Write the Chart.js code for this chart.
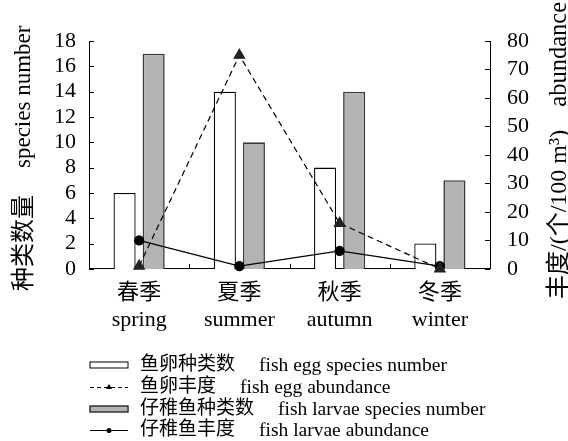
<!DOCTYPE html>
<html>
<head>
<meta charset="utf-8">
<title>Fish eggs and larvae by season</title>
<script src="https://cdn.jsdelivr.net/npm/chart.js"></script>
<style>
    body { margin: 0; background: #fff; }
</style>
</head>
<body>
<canvas id="fishChart" width="568" height="441"></canvas>

<script>
    // seasons (two-line labels)
    const seasonsZh = ['春季', '夏季', '秋季', '冬季'];
    const seasonsEn = ['spring', 'summer', 'autumn', 'winter'];

    // left axis: species number
    const eggSpecies = [6, 14, 8, 2];
    const larvaeSpecies = [17, 10, 14, 7];

    // right axis: abundance (ind./100 m3)
    const eggAbundance = [1, 75, 16, 0];
    const larvaeAbundance = [10, 1, 6.3, 1];

    const speciesTicks = [0, 2, 4, 6, 8, 10, 12, 14, 16, 18];
    const abundanceTicks = [0, 10, 20, 30, 40, 50, 60, 70, 80];

    const legendZh = ['鱼卵种类数', '鱼卵丰度', '仔稚鱼种类数', '仔稚鱼丰度'];
    const legendEn = ['fish egg species number', 'fish egg abundance', 'fish larvae species number', 'fish larvae abundance'];

    const serif = "'Liberation Serif', 'Times New Roman', 'Noto Sans CJK SC', serif";

    // inward ticks, rotated axis titles and the legend list under the chart
    const decor = {
        id: 'decor',
        afterDraw(chart) {
            const ctx = chart.ctx;
            const area = chart.chartArea;
            const xs = chart.scales.x, ys = chart.scales.y, ys1 = chart.scales.y1;
            ctx.save();
            ctx.strokeStyle = '#000';
            ctx.lineWidth = 1;
            ctx.beginPath();
            speciesTicks.forEach(v => {
                const py = Math.round(ys.getPixelForValue(v)) + 0.5;
                ctx.moveTo(area.left, py); ctx.lineTo(area.left + 5, py);
            });
            abundanceTicks.forEach(v => {
                const py = Math.round(ys1.getPixelForValue(v)) + 0.5;
                ctx.moveTo(area.right, py); ctx.lineTo(area.right - 5, py);
            });
            for (let i = 0; i < seasonsZh.length - 1; i++) {
                const px = Math.round((xs.getPixelForValue(i) + xs.getPixelForValue(i + 1)) / 2) + 0.5;
                ctx.moveTo(px, area.bottom); ctx.lineTo(px, area.bottom - 5);
            }
            ctx.stroke();

            // axis titles, both read bottom-to-top
            ctx.fillStyle = '#000';
            ctx.textBaseline = 'alphabetic';
            ctx.textAlign = 'left';
            function upText(txt, x, yStart, size) {
                ctx.save();
                ctx.translate(x, yStart);
                ctx.rotate(-Math.PI / 2);
                ctx.font = size + 'px ' + serif;
                ctx.fillText(txt, 0, 0);
                ctx.restore();
            }
            upText('种类数量', 31, 291, 24);
            upText('species number', 30, 168, 23);
            upText('丰度/(个/100 m³)', 566, 299, 24);
            ctx.font = '24.5px ' + serif;
            const wa = ctx.measureText('abundance').width;
            upText('abundance', 566, 2 + wa, 24.5);

            // legend
            const rowY = [365, 387, 409, 430];
            const sx = 90, ex = 128;
            rowY.forEach((y, i) => {
                ctx.lineWidth = 1;
                if (i === 0 || i === 2) {
                    ctx.fillStyle = i === 0 ? '#fff' : '#b3b3b3';
                    ctx.strokeStyle = i === 0 ? '#000' : '#333';
                    ctx.lineWidth = i === 0 ? 1 : 1.5;
                    ctx.fillRect(sx, y - 3, ex - sx, 6);
                    ctx.strokeRect(sx, y - 3, ex - sx, 6);
                } else {
                    ctx.strokeStyle = '#000';
                    ctx.setLineDash(i === 1 ? [4, 3] : []);
                    ctx.beginPath();
                    ctx.moveTo(sx, y + 0.5); ctx.lineTo(ex, y + 0.5);
                    ctx.stroke();
                    ctx.setLineDash([]);
                    ctx.fillStyle = '#000';
                    ctx.beginPath();
                    if (i === 1) {
                        ctx.moveTo(109, y - 3); ctx.lineTo(112, y + 2); ctx.lineTo(106, y + 2); ctx.closePath();
                    } else {
                        ctx.arc(109, y + 0.5, 2.5, 0, Math.PI * 2);
                    }
                    ctx.fill();
                }
                ctx.fillStyle = '#000';
                ctx.textBaseline = 'middle';
                ctx.font = '19px ' + serif;
                ctx.fillText(legendZh[i], 140, y);
                const w = ctx.measureText(legendZh[i]).width;
                ctx.font = '19.5px ' + serif;
                ctx.fillText(legendEn[i], 140 + w + 24, y + 1);
            });
            ctx.restore();
        }
    };

    const ctx = document.getElementById('fishChart').getContext('2d');
    const chart = new Chart(ctx, {
        type: 'bar',
        data: {
            labels: seasonsZh.map((s, i) => [s, seasonsEn[i]]),
            datasets: [
                {
                    type: 'line',
                    label: legendEn[1],
                    data: eggAbundance,
                    yAxisID: 'y1',
                    borderColor: '#000',
                    borderWidth: 1.2,
                    borderDash: [6, 4],
                    pointStyle: 'triangle',
                    pointRadius: 6,
                    pointBackgroundColor: '#222',
                    pointBorderColor: '#222',
                    tension: 0,
                    clip: false,
                    order: 1
                },
                {
                    type: 'line',
                    label: legendEn[3],
                    data: larvaeAbundance,
                    yAxisID: 'y1',
                    borderColor: '#000',
                    borderWidth: 1.3,
                    pointStyle: 'circle',
                    pointRadius: 4.5,
                    pointBackgroundColor: '#000',
                    pointBorderColor: '#000',
                    tension: 0,
                    clip: false,
                    order: 1
                },
                {
                    label: legendEn[0],
                    data: eggSpecies,
                    yAxisID: 'y',
                    backgroundColor: '#fff',
                    borderColor: '#000',
                    borderWidth: 1.3,
                    categoryPercentage: 0.58,
                    barPercentage: 0.76,
                    order: 2
                },
                {
                    label: legendEn[2],
                    data: larvaeSpecies,
                    yAxisID: 'y',
                    backgroundColor: '#b3b3b3',
                    borderColor: '#3a3a3a',
                    borderWidth: 1.6,
                    categoryPercentage: 0.58,
                    barPercentage: 0.76,
                    order: 2
                }
            ]
        },
        options: {
            responsive: false,
            animation: false,
            layout: {
                padding: { left: 41, right: 22, top: 41, bottom: 96 }
            },
            plugins: {
                legend: { display: false },
                tooltip: { enabled: false }
            },
            scales: {
                x: {
                    grid: { display: false, drawTicks: false },
                    border: { display: true, color: '#000', width: 1 },
                    ticks: {
                        color: '#000',
                        padding: 11,
                        autoSkip: false,
                        maxRotation: 0,
                        font: { family: serif, size: 22, lineHeight: 1.23 }
                    }
                },
                y: {
                    position: 'left',
                    min: 0,
                    max: 18,
                    afterBuildTicks: s => { s.ticks = speciesTicks.map(v => ({ value: v })); },
                    grid: { display: false, drawTicks: false },
                    border: { display: true, color: '#000', width: 1 },
                    ticks: {
                        color: '#000',
                        padding: 13,
                        autoSkip: false,
                        font: { family: serif, size: 22 }
                    }
                },
                y1: {
                    position: 'right',
                    min: 0,
                    max: 80,
                    afterBuildTicks: s => { s.ticks = abundanceTicks.map(v => ({ value: v })); },
                    grid: { display: false, drawTicks: false },
                    border: { display: true, color: '#000', width: 1 },
                    ticks: {
                        color: '#000',
                        padding: 17,
                        autoSkip: false,
                        font: { family: serif, size: 22 }
                    }
                }
            }
        },
        plugins: [decor]
    });
</script>
</body>
</html>
